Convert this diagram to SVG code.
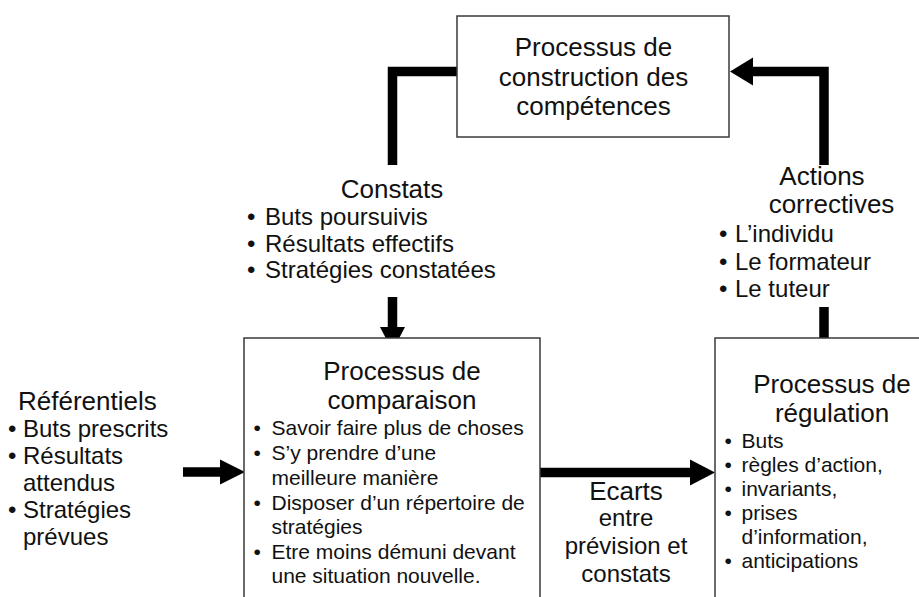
<svg xmlns="http://www.w3.org/2000/svg" width="919" height="597" viewBox="0 0 919 597">
<style>
.box{fill:#fff;stroke:#3a3a3a;stroke-width:1.5}
.ln{fill:none;stroke:#000;stroke-width:9.5;stroke-linejoin:miter}
.hd{fill:#000}
text{font-family:"Liberation Sans",Arial,sans-serif;fill:#111}
.t26{font-size:26px}
.t24{font-size:24px}
.t21{font-size:21px}
.c{text-anchor:middle}
</style>
<rect width="919" height="597" fill="#fff"/>
<g id="connectors">
<polyline class="ln" points="457,71.5 392.5,71.5 392.5,165"/>
<line class="ln" x1="392.5" y1="297" x2="392.5" y2="328"/>
<polygon class="hd" points="380,327 405,327 392.5,351"/>
<line class="ln" x1="183" y1="472" x2="221" y2="472"/>
<polygon class="hd" points="220,459.5 220,484.5 245,472"/>
<line class="ln" x1="540" y1="472.5" x2="691" y2="472.5"/>
<polygon class="hd" points="690,459.5 690,485.5 715,472.5"/>
<line class="ln" x1="824" y1="338" x2="824" y2="307"/>
<polyline class="ln" points="824,165 824,71.5 752,71.5"/>
<polygon class="hd" points="753,57.5 753,85.5 730,71.5"/>
</g>
<g id="construction">
<rect class="box" x="457" y="16" width="272" height="121"/>
<text class="t26 c" x="593.5" y="56">Processus de</text>
<text class="t26 c" x="593.5" y="86">construction des</text>
<text class="t26 c" x="593.5" y="115">compétences</text>
</g>
<g id="constats">
<text class="t26 c" x="392" y="198">Constats</text>
<text class="t24" x="247" y="225">•</text><text class="t24" x="265" y="225">Buts poursuivis</text>
<text class="t24" x="247" y="252">•</text><text class="t24" x="265" y="252">Résultats effectifs</text>
<text class="t24" x="247" y="278">•</text><text class="t24" x="265" y="278">Stratégies constatées</text>
</g>
<g id="actions">
<text class="t26 c" x="822" y="185">Actions</text>
<text class="t26 c" x="831.5" y="213">correctives</text>
<text class="t24" x="719" y="242">•</text><text class="t24" x="735" y="242">L’individu</text>
<text class="t24" x="719" y="270">•</text><text class="t24" x="735" y="270">Le formateur</text>
<text class="t24" x="719" y="297">•</text><text class="t24" x="735" y="297">Le tuteur</text>
</g>
<g id="referentiels">
<text class="t26" x="18" y="410">Référentiels</text>
<text class="t24" x="8" y="437">•</text><text class="t24" x="23" y="437">Buts prescrits</text>
<text class="t24" x="8" y="464">•</text><text class="t24" x="23" y="464">Résultats</text>
<text class="t24" x="23" y="491">attendus</text>
<text class="t24" x="8" y="518">•</text><text class="t24" x="23" y="518">Stratégies</text>
<text class="t24" x="23" y="545">prévues</text>
</g>
<g id="comparaison">
<rect class="box" x="244" y="338" width="296" height="280"/>
<text class="t26 c" x="402" y="380">Processus de</text>
<text class="t26 c" x="402" y="409">comparaison</text>
<text class="t21" x="253.5" y="435">•</text><text class="t21" x="271.5" y="435">Savoir faire plus de choses</text>
<text class="t21" x="253.5" y="460">•</text><text class="t21" x="271.5" y="460">S’y prendre d’une</text>
<text class="t21" x="271.5" y="484.5">meilleure manière</text>
<text class="t21" x="253.5" y="510">•</text><text class="t21" x="271.5" y="510">Disposer d’un répertoire de</text>
<text class="t21" x="271.5" y="534">stratégies</text>
<text class="t21" x="253.5" y="558.5">•</text><text class="t21" x="271.5" y="558.5">Etre moins démuni devant</text>
<text class="t21" x="271.5" y="583">une situation nouvelle.</text>
</g>
<g id="ecarts">
<text class="t26 c" x="626" y="500">Ecarts</text>
<text class="t24 c" x="626" y="526">entre</text>
<text class="t24 c" x="626" y="554">prévision et</text>
<text class="t24 c" x="626" y="582">constats</text>
</g>
<g id="regulation">
<rect class="box" x="715" y="338" width="220" height="280"/>
<text class="t26 c" x="832" y="393">Processus de</text>
<text class="t26 c" x="832" y="422">régulation</text>
<text class="t21" x="724.5" y="448">•</text><text class="t21" x="741.5" y="448">Buts</text>
<text class="t21" x="724.5" y="472">•</text><text class="t21" x="741.5" y="472">règles d’action,</text>
<text class="t21" x="724.5" y="496">•</text><text class="t21" x="741.5" y="496">invariants,</text>
<text class="t21" x="724.5" y="520">•</text><text class="t21" x="741.5" y="520">prises</text>
<text class="t21" x="741.5" y="544">d’information,</text>
<text class="t21" x="724.5" y="568">•</text><text class="t21" x="741.5" y="568">anticipations</text>
</g>
</svg>
